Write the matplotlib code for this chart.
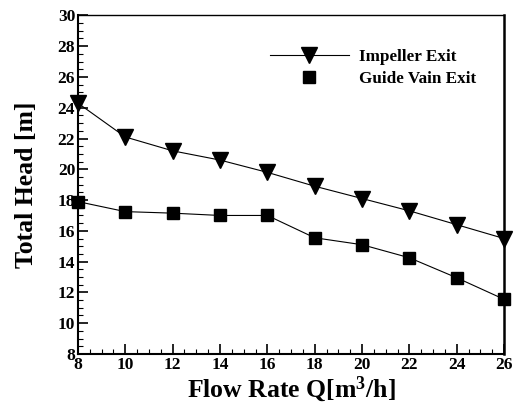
import matplotlib
matplotlib.use('Agg')
import matplotlib.pyplot as plt
from matplotlib.lines import Line2D
from matplotlib.ticker import MultipleLocator

# Data
flow_rate = [8, 10, 12, 14, 16, 18, 20, 22, 24, 26]
impeller_exit = [24.3, 22.1, 21.2, 20.6, 19.8, 18.9, 18.1, 17.3, 16.4, 15.5]
guide_vain_exit = [17.9, 17.25, 17.15, 17.0, 17.0, 15.55, 15.1, 14.25, 12.95, 11.55]

plt.rcParams['font.family'] = ['Liberation Serif', 'DejaVu Serif']
plt.rcParams['font.weight'] = 'bold'
plt.rcParams['mathtext.default'] = 'regular'

fig = plt.figure(figsize=(5.16, 4.05), dpi=100)
ax = fig.add_axes([0.151, 0.126, 0.826, 0.836])

ax.plot(flow_rate, impeller_exit, color='black', linewidth=0.8,
        marker='v', markersize=11, clip_on=False, zorder=3)
ax.plot(flow_rate, guide_vain_exit, color='black', linewidth=0.8,
        marker='s', markersize=9, clip_on=False, zorder=3)

ax.set_xlim(8, 26)
ax.set_ylim(8, 30)
ax.xaxis.set_major_locator(MultipleLocator(2))
ax.xaxis.set_minor_locator(MultipleLocator(0.5))
ax.yaxis.set_major_locator(MultipleLocator(2))
ax.yaxis.set_minor_locator(MultipleLocator(0.5))
ax.tick_params(which='major', direction='in', length=7, width=1.2,
               top=False, right=False, labelsize=12.5, pad=2)
ax.tick_params(which='minor', direction='in', length=3.5, width=0.8,
               top=False, right=False)
for lbl in ax.get_xticklabels() + ax.get_yticklabels():
    lbl.set_fontweight('bold')

for side in ['left', 'bottom']:
    ax.spines[side].set_linewidth(1.5)
ax.spines['right'].set_linewidth(1.8)
ax.spines['top'].set_linewidth(1.0)

ax.set_xlabel('Flow Rate Q[m$^{3}$/h]', fontsize=18.5, fontweight='bold', labelpad=1)
ax.set_ylabel('Total Head [m]', fontsize=18.5, fontweight='bold', labelpad=14)

handles = [
    Line2D([], [], color='black', linewidth=0.8, marker='v', markersize=11),
    Line2D([], [], color='black', linestyle='none', marker='s', markersize=9),
]
ax.legend(handles, ['Impeller Exit', 'Guide Vain Exit'],
          loc='upper right', bbox_to_anchor=(0.97, 0.945), frameon=False,
          handlelength=4.6, handletextpad=0.6, labelspacing=0.3,
          prop={'weight': 'bold', 'size': 12.3})

fig.savefig('out.png', dpi=100)
